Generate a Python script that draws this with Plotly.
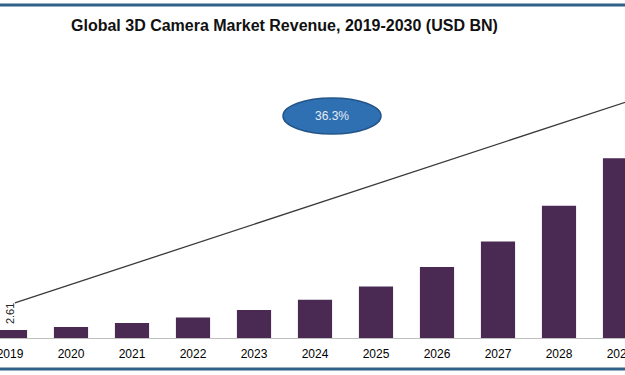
import plotly.graph_objects as go

years = [2019, 2020, 2021, 2022, 2023, 2024, 2025, 2026, 2027, 2028, 2029, 2030]
revenue = [2.61, 3.5, 4.8, 6.6, 9.0, 12.3, 16.6, 22.8, 31.0, 42.5, 57.8, 78.8]
tick_labels = [str(y) for y in years]
first_label = "2.61"
cagr_label = "36.3%"
title_text = "Global 3D Camera Market Revenue, 2019-2030 (USD BN)"

# CAGR trend arrow (decorative), in data units
trend_x = [2019.08, 2030.2]
trend_y = [11.3, 83.0]

BAR = "#4a2a52"
BLUE = "#2f6088"

fig = go.Figure()
fig.add_trace(go.Bar(x=years, y=revenue, marker=dict(color=BAR, line=dict(width=0)),
                     width=0.56, hoverinfo="x+y"))
fig.add_trace(go.Scatter(x=trend_x, y=trend_y, mode="lines",
                         line=dict(color="#3a3a3a", width=1.3), hoverinfo="skip"))

fig.add_annotation(x=years[0], y=7.7, xref="x", yref="y", text=first_label, textangle=-90,
                   showarrow=False, font=dict(family="Liberation Sans, Arial", size=11, color="#222"))

fig.add_shape(type="circle", xref="paper", yref="paper", x0=283/625, x1=381/625,
              y0=(338-134)/338, y1=(338-98)/338,
              fillcolor="#2e70b2", line=dict(color="#24558a", width=1.5))
fig.add_annotation(x=332/625, y=(338-116)/338, xref="paper", yref="paper", text=cagr_label,
                   showarrow=False, font=dict(family="Liberation Sans, Arial", size=12, color="#e6ecf4"))

fig.add_annotation(x=284/625, y=(338-25)/338, xref="paper", yref="paper", text="<b>"+title_text+"</b>",
                   showarrow=False, xanchor="center", yanchor="middle",
                   font=dict(family="Liberation Sans, Arial", size=16, color="#111"))

for yp in [(338-5)/338, (338-369)/338]:
    fig.add_shape(type="line", xref="paper", yref="paper", x0=0, x1=1, y0=yp, y1=yp,
                  line=dict(color=BLUE, width=3))

fig.update_layout(
    width=625, height=375,
    margin=dict(l=0, r=0, t=0, b=37),
    paper_bgcolor="white", plot_bgcolor="white",
    showlegend=False,
    xaxis=dict(range=[2018.836, 2029.082], tickmode="array", tickvals=years, ticktext=tick_labels,
               showgrid=False, zeroline=False, showline=True, linecolor="#bfbfbf", linewidth=1,
               ticks="", tickfont=dict(family="Liberation Sans, Arial", size=12, color="#000"),
               ticklabelstandoff=5, ticklabeloverflow="allow", automargin=False),
    yaxis=dict(range=[0, 108.7], visible=False, showgrid=False, zeroline=False, automargin=False),
)

fig.write_html("out.html", config={"displayModeBar": False},
               post_script="document.body.style.margin='0';")
